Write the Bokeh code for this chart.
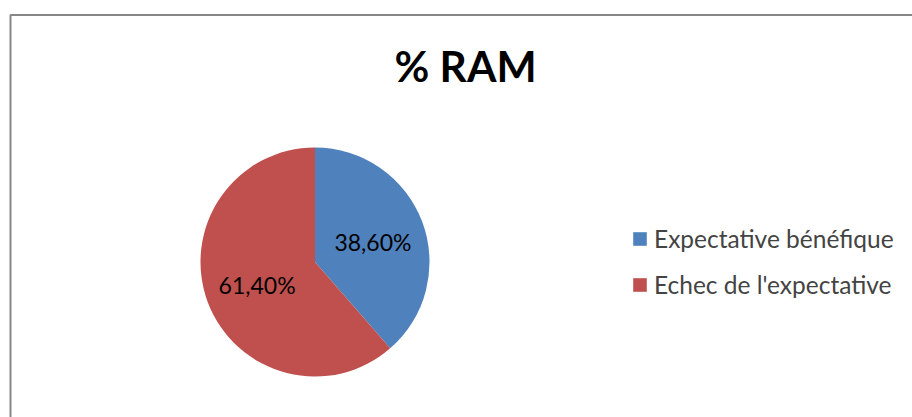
import numpy as np
from bokeh.plotting import figure
from bokeh.models import Range1d, Label, Legend, LegendItem, ColumnDataSource
from bokeh.embed import file_html
from bokeh.resources import INLINE

# ---- data ----
title = "% RAM"
categories = ["Expectative bénéfique", "Echec de l'expectative"]
percentages = [38.60, 61.40]
value_labels = ["38,60%", "61,40%"]
colors = ["#4F81BD", "#C0504D"]

FONT = "Lato"
W, H = 912, 417

p = figure(width=W, height=H, output_backend="svg", toolbar_location=None,
           x_range=Range1d(0, W), y_range=Range1d(0, H), min_border=0,
           x_axis_location=None, y_axis_location=None)
p.grid.visible = False
p.outline_line_color = None
p.background_fill_color = "white"
p.border_fill_color = "white"

# chart-area border (left and top edges visible, rest cropped)
p.line(x=[10, 10, 2000], y=[-500, 402.5, 402.5], line_color="#868686", line_width=2)

# pie
cx, cy, R = 314.5, 155.5, 114.5
frac = np.array(percentages) / np.sum(percentages)
cum = np.cumsum(frac)
start = np.pi / 2 - 2 * np.pi * (cum - frac)
end = np.pi / 2 - 2 * np.pi * cum
mid = np.pi / 2 - 2 * np.pi * (cum - frac / 2)

src = ColumnDataSource(dict(cat=categories, start=start, end=end, color=colors,
                            lx=cx + 0.54 * R * np.cos(mid), ly=cy + 0.54 * R * np.sin(mid) - 1.5,
                            lab=value_labels))
r = p.wedge(x=cx, y=cy, radius=R, start_angle="start", end_angle="end",
            direction="clock", fill_color="color", line_color=None, source=src)

p.text(x="lx", y="ly", text="lab", source=src, text_align="center",
       text_baseline="middle", text_font_size="23px", text_font={"value": FONT},
       text_color="black")

# title
p.add_layout(Label(x=465, y=352.5, text=title, text_align="center",
                   text_baseline="middle", text_font=FONT, text_font_size="42.5px",
                   text_font_style="bold", text_color="black"))

# legend
items = [LegendItem(label=c, renderers=[r], index=i) for i, c in enumerate(categories)]
legend = Legend(items=items, location=(631, 118), glyph_width=17, glyph_height=17,
                label_standoff=6, padding=0, margin=0, spacing=17, label_height=22,
                label_text_font=FONT, label_text_font_size="24.5px",
                label_text_baseline="middle", border_line_color=None,
                background_fill_alpha=0)
p.add_layout(legend)

open("out.html", "w").write(file_html(p, INLINE))
